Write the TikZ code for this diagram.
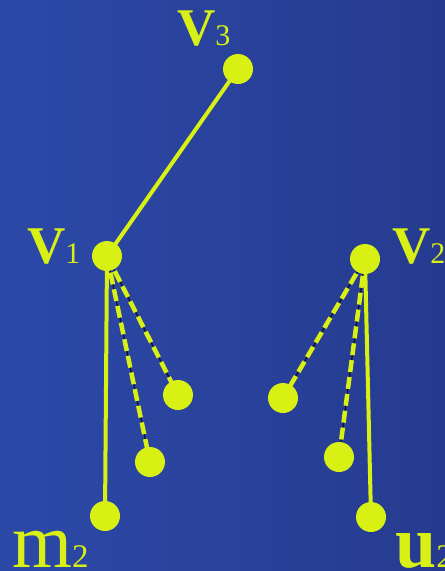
\documentclass[tikz,border=0pt]{standalone}
\usepackage{fontspec}
\setmainfont{Liberation Serif}
\usetikzlibrary{backgrounds}
\definecolor{bgL}{HTML}{2C49A8}
\definecolor{bgR}{HTML}{263B8F}
\definecolor{ylw}{HTML}{D8F014}
\definecolor{navy}{HTML}{0E1230}
\tikzset{
  dot/.style={circle,fill=ylw,minimum size=30pt,inner sep=0pt},
  solidedge/.style={draw=ylw,line width=4pt},
  dashunder/.style={draw=navy,line width=1.3pt},
  dashover/.style={draw=ylw,line width=4.5pt,dash pattern=on 12pt off 5pt},
  lbl/.style={text=ylw,inner sep=0pt,anchor=base west},
}
\newcommand{\Vlab}[2]{{\fontsize{53}{53}\selectfont\bfseries #1}{\fontsize{30}{30}\selectfont #2}}
\newcommand{\Mlab}[2]{{\fontsize{77}{77}\selectfont #1}{\fontsize{33}{33}\selectfont #2}}
\newcommand{\Ulab}[2]{{\fontsize{74}{74}\selectfont\bfseries #1}{\fontsize{33}{33}\selectfont #2}}
\begin{document}
\begin{tikzpicture}[x=1pt,y=-1pt]
\useasboundingbox (0,0) rectangle (445,571);
\node[dot] (v3) at (238,69) {};
\node[dot] (v1) at (107,256) {};
\node[dot] (v2) at (365,259) {};
\node[dot] (m2) at (105,516) {};
\node[dot] (u2) at (371,517) {};
\node[dot] (a1) at (178,395) {};
\node[dot] (a2) at (150,462) {};
\node[dot] (b1) at (283,398) {};
\node[dot] (b2) at (339,457) {};
\begin{pgfonlayer}{background}
  \shade[left color=bgL,right color=bgR] (0,0) rectangle (445,571);
  \draw[solidedge] (v3.center) -- (v1.center);
  \draw[solidedge] (v1.center) -- (m2.center);
  \draw[solidedge] (v2.center) -- (u2.center);
  \foreach \s/\t in {v1/a1,v1/a2,v2/b1,v2/b2}{
    \draw[dashunder] (\s.center) -- (\t.center);
    \draw[dashover] (\s.center) -- (\t.center);
  }
\end{pgfonlayer}
\node[lbl] (l3) at (177,45) {\Vlab{V}{3}};
\node[lbl] (l1) at (27,263) {\Vlab{V}{1}};
\node[lbl] (l2) at (392,263) {\Vlab{V}{2}};
\node[lbl] (lm) at (12,567) {\Mlab{m}{2}};
\node[lbl] (lu) at (395,567) {\Ulab{u}{2}};
\end{tikzpicture}
\end{document}
